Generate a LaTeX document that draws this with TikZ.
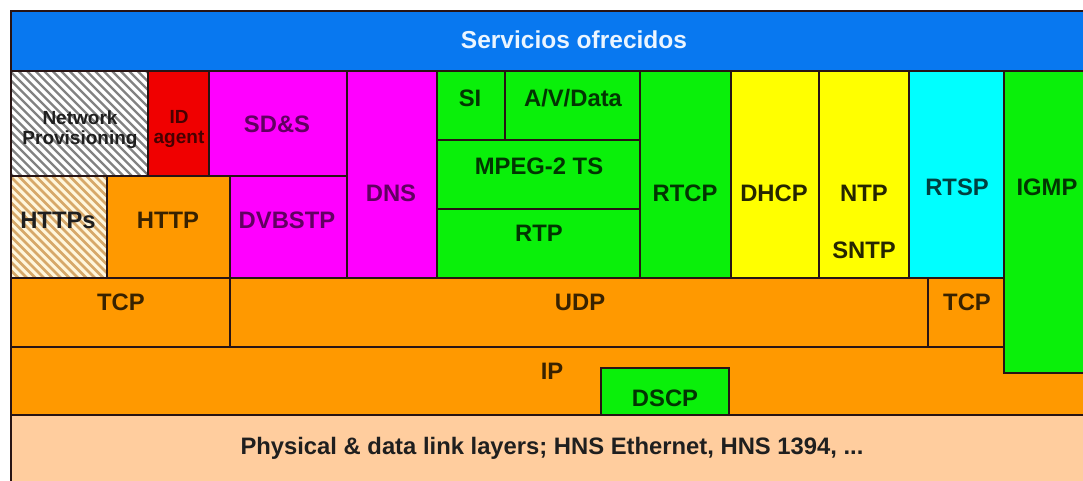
\documentclass[tikz,border=0pt]{standalone}
\usepackage{fontspec}
\setmainfont{Liberation Sans}
\definecolor{edgeclr}{RGB}{40,20,20}
\definecolor{cblue}{RGB}{8,120,240}
\definecolor{titletext}{RGB}{235,245,255}
\definecolor{cred}{RGB}{240,0,0}
\definecolor{cmag}{RGB}{255,0,255}
\definecolor{corange}{RGB}{255,153,0}
\definecolor{cgreen}{RGB}{10,240,10}
\definecolor{cyellow}{RGB}{255,255,0}
\definecolor{ccyan}{RGB}{0,255,255}
\definecolor{cpeach}{RGB}{255,205,158}
\definecolor{hatchgray}{RGB}{130,130,130}
\definecolor{cream}{RGB}{255,246,220}
\definecolor{hatchtan}{RGB}{215,168,105}
\begin{document}
\begin{tikzpicture}[x=1pt,y=-1pt,
  cell/.style={draw=edgeclr,line width=1.8pt},
  lab/.style={anchor=base,yshift=-8.5pt,inner sep=0pt,
    font=\bfseries\fontsize{23.8}{28}\selectfont},
  smalllab/.style={anchor=north,inner sep=0pt,align=center,
    font=\bfseries\fontsize{19}{20}\selectfont},
  titlelab/.style={anchor=base,yshift=-8.8pt,inner sep=0pt,text=titletext,
    font=\bfseries\fontsize{24.5}{29}\selectfont},
  stripe/.style={line width=2.4pt},
  tblack/.style={text={black!88}},
  tred/.style={text=cred!30!black},
  tmag/.style={text=cmag!38!black},
  torange/.style={text=corange!22!black},
  tgreen/.style={text=cgreen!22!black},
  tyellow/.style={text=cyellow!15!black},
  tcyan/.style={text=ccyan!25!black}]
\useasboundingbox (0,0) rectangle (1083,480);
\clip (0,0) rectangle (1083,480);
\fill[white] (0,0) rectangle (1083,480);

% title bar
\filldraw[cell,fill=cblue] (11,11) rectangle (1095,71);
\node[titlelab] (title) at (574,40) {Servicios ofrecidos};

% hatched cell: network provisioning
\fill[white] (11,71) rectangle (148,176);
\begin{scope}
  \clip (11,71) rectangle (148,176);
  \foreach \s in {-120,-111.5,...,150}
    \draw[stripe,draw=hatchgray] (11+\s,71) -- ++(130,130);
\end{scope}
\draw[cell] (11,71) rectangle (148,176);
\node[smalllab,tblack] (netprov) at (80,110.2) {Network\\Provisioning};

% ID agent and SD&S
\filldraw[cell,fill=cred] (148,71) rectangle (209,176);
\node[smalllab,tred] (idagent) at (179,110.2) {ID\\agent};
\filldraw[cell,fill=cmag] (209,71) rectangle (347,176);
\node[lab,tmag] (sds) at (277,124) {SD\&S};

% hatched cell: HTTPs
\fill[cream] (11,176) rectangle (107,278);
\begin{scope}
  \clip (11,176) rectangle (107,278);
  \foreach \s in {-120,-111.5,...,110}
    \draw[stripe,line width=2.8pt,draw=hatchtan] (11+\s,176) -- ++(130,130);
\end{scope}
\draw[cell] (11,176) rectangle (107,278);
\node[lab,tblack] (https) at (58,220) {HTTPs};

% HTTP and DVBSTP
\filldraw[cell,fill=corange] (107,176) rectangle (230,278);
\node[lab,torange] (http) at (168,220) {HTTP};
\filldraw[cell,fill=cmag] (230,176) rectangle (347,278);
\node[lab,tmag] (dvbstp) at (287,220) {DVBSTP};

% DNS
\filldraw[cell,fill=cmag] (347,71) rectangle (437,278);
\node[lab,tmag] (dns) at (391,193) {DNS};

% transport stream stack
\filldraw[cell,fill=cgreen] (437,71) rectangle (505,140);
\node[lab,tgreen] (si) at (470,98) {SI};
\filldraw[cell,fill=cgreen] (505,71) rectangle (640,140);
\node[lab,tgreen] (avdata) at (573,98) {A/V/Data};
\filldraw[cell,fill=cgreen] (437,140) rectangle (640,209);
\node[lab,tgreen] (mpeg) at (539,166) {MPEG-2 TS};
\filldraw[cell,fill=cgreen] (437,209) rectangle (640,278);
\node[lab,tgreen] (rtp) at (539,233) {RTP};

% tall service columns
\filldraw[cell,fill=cgreen] (640,71) rectangle (731,278);
\node[lab,tgreen] (rtcp) at (685,193) {RTCP};
\filldraw[cell,fill=cyellow] (731,71) rectangle (819,278);
\node[lab,tyellow] (dhcp) at (774,193) {DHCP};
\filldraw[cell,fill=cyellow] (819,71) rectangle (909,278);
\node[lab,tyellow] (ntp) at (864,193) {NTP};
\node[lab,tyellow] (sntp) at (864,250) {SNTP};
\filldraw[cell,fill=ccyan] (909,71) rectangle (1004,278);
\node[lab,tcyan] (rtsp) at (957,187) {RTSP};

% transport layer
\filldraw[cell,fill=corange] (11,278) rectangle (230,347);
\node[lab,torange] (tcpl) at (121,302) {TCP};
\filldraw[cell,fill=corange] (230,278) rectangle (928,347);
\node[lab,torange] (udp) at (580,302) {UDP};
\filldraw[cell,fill=corange] (928,278) rectangle (1004,347);
\node[lab,torange] (tcpr) at (967,302) {TCP};

% network layer
\filldraw[cell,fill=corange] (11,347) rectangle (1095,415);
\node[lab,torange] (ip) at (552,371) {IP};
\filldraw[cell,fill=cgreen] (601,368) rectangle (729,415);
\node[lab,tgreen] (dscp) at (665,398) {DSCP};

% IGMP spans services and network layer
\filldraw[cell,fill=cgreen] (1004,71) rectangle (1095,373);
\node[lab,tgreen] (igmp) at (1047,187) {IGMP};

% link layer
\filldraw[cell,fill=cpeach] (11,415) rectangle (1095,495);
\node[lab,tblack] (phys) at (552,446) {Physical \& data link layers; HNS Ethernet, HNS 1394, ...};
\end{tikzpicture}
\end{document}
